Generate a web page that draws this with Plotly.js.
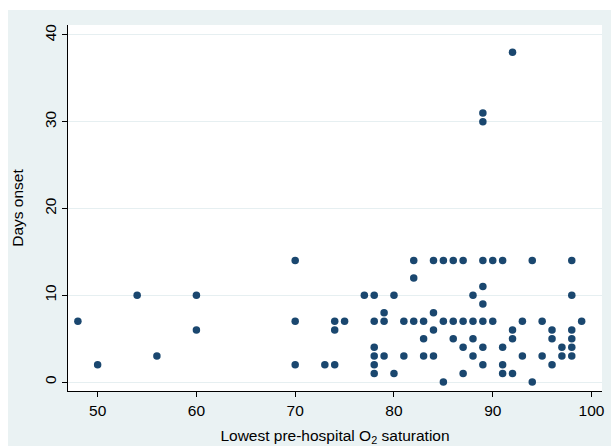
<!DOCTYPE html>
<html>
<head>
<meta charset="utf-8">
<script src="https://cdn.plot.ly/plotly-3.0.1.min.js"></script>
<style>
  html, body { margin: 0; padding: 0; background: #ffffff; width: 611px; height: 446px; overflow: hidden; }
  #chart { position: absolute; left: 8px; top: 10px; width: 603px; height: 436px; }
</style>
</head>
<body>
<div id="chart"></div>
<script>
// Lowest pre-hospital O2 saturation (%)
const o2Saturation = [
  48, 50, 54, 56, 60, 60, 70, 70, 70,
  73, 74, 74, 74, 75, 77, 78, 78, 78, 78, 78, 78, 79, 79, 79, 80, 80, 81, 81,
  82, 82, 82, 83, 83, 83, 84, 84, 84, 84, 85, 85, 85,
  86, 87, 89, 90, 91, 94, 98,
  89, 88, 98, 89,
  86, 87, 88, 89, 90, 93, 95, 99,
  92, 96, 98,
  86, 88, 92, 96, 98,
  87, 89, 91, 97, 98,
  88, 93, 95, 97, 98,
  89, 91, 96,
  87, 91, 92,
  94,
  92, 89, 89
];
// Days from onset
const daysOnset = [
  7, 2, 10, 3, 10, 6, 14, 7, 2,
  2, 7, 6, 2, 7, 10, 10, 7, 4, 3, 2, 1, 8, 7, 3, 10, 1, 7, 3,
  14, 12, 7, 7, 5, 3, 14, 8, 6, 3, 14, 7, 0,
  14, 14, 14, 14, 14, 14, 14,
  11, 10, 10, 9,
  7, 7, 7, 7, 7, 7, 7, 7,
  6, 6, 6,
  5, 5, 5, 5, 5,
  4, 4, 4, 4, 4,
  3, 3, 3, 3, 3,
  2, 2, 2,
  1, 1, 1,
  0,
  38, 31, 30
];
const xTicks = [50, 60, 70, 80, 90, 100];
const yTicks = [0, 10, 20, 30, 40];

const font = { family: "Liberation Sans, Arial, sans-serif", size: 15.5, color: "#000000" };

const trace = {
  type: "scatter",
  mode: "markers",
  x: o2Saturation,
  y: daysOnset,
  marker: { color: "#1a476f", size: 7.5, symbol: "circle", line: { width: 0 } },
  hoverinfo: "x+y"
};

const layout = {
  width: 603,
  height: 436,
  margin: { l: 60, r: 9, t: 15, b: 55, pad: 0 },
  paper_bgcolor: "#eaf2f3",
  plot_bgcolor: "#ffffff",
  showlegend: false,
  font: font,
  xaxis: {
    range: [47, 101.06],
    tickvals: xTicks,
    ticktext: xTicks.map(String),
    ticks: "outside",
    ticklen: 5,
    tickcolor: "#000000",
    showline: true,
    linecolor: "#000000",
    linewidth: 1,
    showgrid: false,
    zeroline: false,
    tickfont: font,
    title: { text: "Lowest pre-hospital O<sub>2</sub> saturation", font: font, standoff: 12 },
    automargin: false
  },
  yaxis: {
    range: [-1.03, 41.15],
    tickvals: yTicks,
    ticktext: yTicks.map(String),
    tickangle: -90,
    ticks: "outside",
    ticklen: 5,
    tickcolor: "#000000",
    showline: true,
    linecolor: "#000000",
    linewidth: 1,
    showgrid: true,
    gridcolor: "#e6eff1",
    gridwidth: 1,
    zeroline: false,
    tickfont: font,
    title: { text: "Days onset", font: font, standoff: 14 },
    automargin: false
  }
};

Plotly.newPlot("chart", [trace], layout, { displayModeBar: false, staticPlot: true });
</script>
</body>
</html>
